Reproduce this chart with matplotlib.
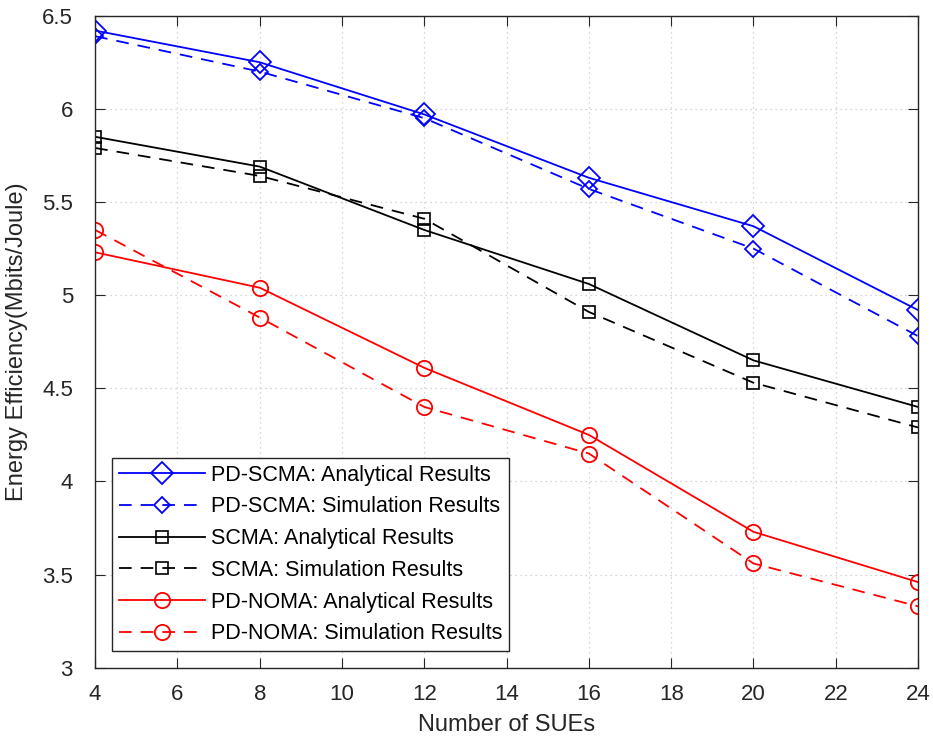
import numpy as np
import matplotlib.pyplot as plt

plt.rcParams['font.family'] = ['Liberation Sans', 'DejaVu Sans']

# number of SUEs on the x axis
sues = [4, 8, 12, 16, 20, 24]

# energy efficiency (Mbits/Joule)
pdscma_ana = [6.42, 6.25, 5.97, 5.63, 5.37, 4.92]
pdscma_sim = [6.39, 6.20, 5.95, 5.57, 5.25, 4.78]
scma_ana = [5.85, 5.69, 5.35, 5.06, 4.65, 4.40]
scma_sim = [5.79, 5.64, 5.41, 4.91, 4.53, 4.29]
pdnoma_ana = [5.23, 5.04, 4.61, 4.25, 3.73, 3.46]
pdnoma_sim = [5.35, 4.88, 4.40, 4.15, 3.56, 3.33]

labels = ['PD-SCMA: Analytical Results', 'PD-SCMA: Simulation Results',
          'SCMA: Analytical Results', 'SCMA: Simulation Results',
          'PD-NOMA: Analytical Results', 'PD-NOMA: Simulation Results']

fig = plt.figure(figsize=(9.33, 7.47), dpi=100)
ax = fig.add_axes([0.102, 0.106, 0.882, 0.873])

dash = (0, (7, 5))
blue = '#0000ff'
red = '#ff0000'

ax.plot(sues, pdscma_ana, '-', color=blue, marker='D', ms=11, mfc='none', mew=1.3, lw=1.3, label=labels[0])
ax.plot(sues, pdscma_sim, color=blue, ls=dash, marker='D', ms=8, mfc='none', mew=1.3, lw=1.3, label=labels[1])
ax.plot(sues, scma_ana, '-', color='k', marker='s', ms=8, mfc='none', mew=1.2, lw=1.3, label=labels[2])
ax.plot(sues, scma_sim, color='k', ls=dash, marker='s', ms=8, mfc='none', mew=1.2, lw=1.3, label=labels[3])
ax.plot(sues, pdnoma_ana, '-', color=red, marker='o', ms=11, mfc='none', mew=1.3, lw=1.3, label=labels[4])
ax.plot(sues, pdnoma_sim, color=red, ls=dash, marker='o', ms=11, mfc='none', mew=1.3, lw=1.3, label=labels[5])

ax.set_xlim(4, 24)
ax.set_ylim(3, 6.5)
ax.set_xticks(np.arange(4, 25, 2))
ax.set_yticks(np.arange(3, 6.51, 0.5))
ax.set_yticklabels(['3', '3.5', '4', '4.5', '5', '5.5', '6', '6.5'])
ax.tick_params(direction='in', top=True, right=True, length=7, labelsize=16, colors='#262626')
ax.tick_params(axis='y', pad=16)
ax.tick_params(axis='x', pad=12)
for s in ax.spines.values():
    s.set_color('#262626')
    s.set_linewidth(1.0)
ax.grid(True, ls=(0, (1, 3)), color='#c8c8c8', lw=0.9)

ax.set_xlabel('Number of SUEs', fontsize=17, color='#262626', labelpad=6)
ax.set_ylabel('Energy Efficiency(Mbits/Joule)', fontsize=17, color='#262626', labelpad=10)

leg = ax.legend(loc='lower left', bbox_to_anchor=(0.021, 0.026), fontsize=15.5, handlelength=4,
                fancybox=False, edgecolor='#262626', framealpha=1, borderpad=0.3,
                labelspacing=0.5, handletextpad=0.3, borderaxespad=0)
leg.get_frame().set_linewidth(1.0)

fig.savefig('out.png', dpi=100)
